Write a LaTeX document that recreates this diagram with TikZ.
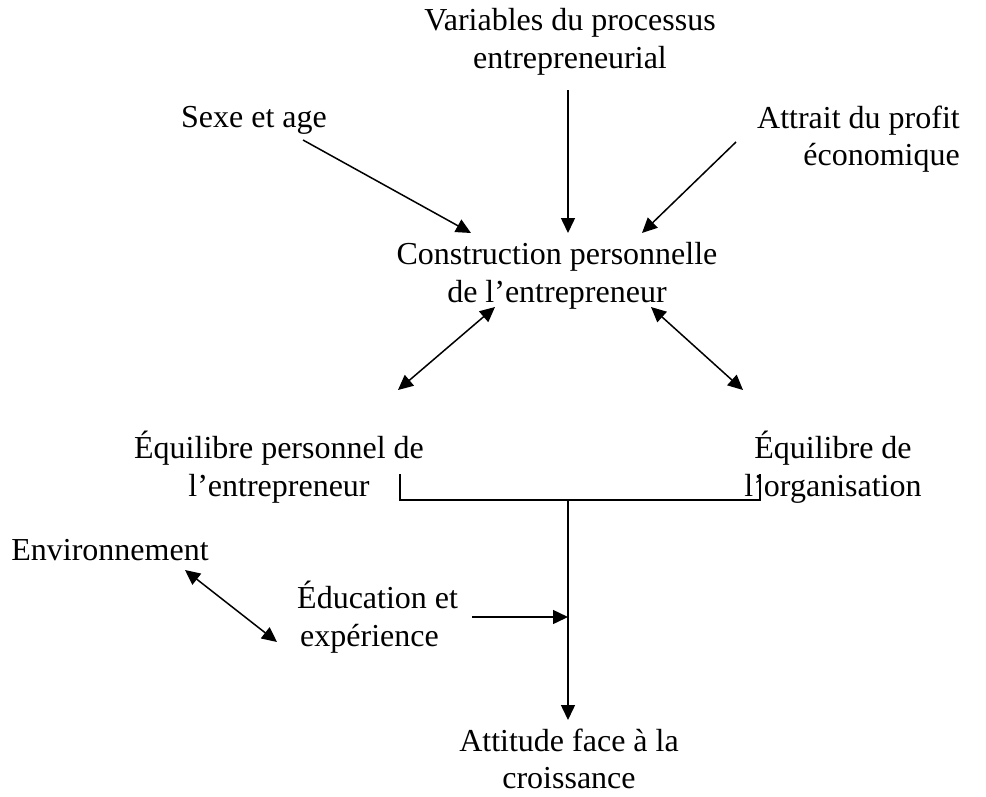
\documentclass[tikz,border=0pt]{standalone}
\usepackage{fontspec}
\setmainfont{Liberation Serif}
\usetikzlibrary{arrows.meta}
\begin{document}
\begin{tikzpicture}[x=1pt,y=-1pt,
  lbl/.style={inner sep=0pt,font=\fontsize{32}{37.5}\selectfont},
  conn/.style={line width=1.5pt,-{Triangle[length=15pt,width=14pt]}},
  dconn/.style={line width=1.5pt,{Triangle[length=15pt,width=14pt]}-{Triangle[length=15pt,width=14pt]}},
  plain/.style={line width=1.5pt}]
\useasboundingbox (0,0) rectangle (986,796);
\fill[white] (0,0) rectangle (986,796);
% nodes
\node[lbl,align=center] (var) at (570,42) {Variables du processus\\entrepreneurial};
\node[lbl] (sexe) at (254,120) {Sexe et age};
\node[lbl,align=right,anchor=east] (attr) at (960,139) {Attrait du profit\\économique};
\node[lbl,align=center] (cons) at (557,276) {Construction personnelle\\de l’entrepreneur};
\node[lbl,align=center] (eqp) at (279,467) {Équilibre personnel de\\l’entrepreneur};
\node[lbl,align=center] (eqo) at (833,467) {Équilibre de\\l’organisation};
\node[lbl] (env) at (110,550) {Environnement};
\node[lbl,align=left,anchor=west] (edu) at (297,617) {Éducation et\\\hspace*{3pt}expérience};
\node[lbl,align=center] (att) at (569,759) {Attitude face à la\\croissance};
% connector end points
\coordinate (sexeA) at (303,140);
\coordinate (consA) at (471,233);
\coordinate (varA) at (568,90);
\coordinate (consB) at (568,233);
\coordinate (attrA) at (736,142);
\coordinate (consC) at (642,233);
\coordinate (consD) at (495,307);
\coordinate (eqpA) at (398,390);
\coordinate (consE) at (651,307);
\coordinate (eqoA) at (743,390);
\coordinate (brL) at (400,474);
\coordinate (brLb) at (400,500);
\coordinate (brR) at (760,474);
\coordinate (brRb) at (760,500);
\coordinate (brM) at (568,500);
\coordinate (attA) at (568,720);
\coordinate (envA) at (185,570);
\coordinate (eduA) at (277,642);
\coordinate (eduB) at (472,617);
\coordinate (join) at (568,617);
% connectors
\draw[conn] (sexeA) -- (consA);
\draw[conn] (varA) -- (consB);
\draw[conn] (attrA) -- (consC);
\draw[dconn] (consD) -- (eqpA);
\draw[dconn] (consE) -- (eqoA);
\draw[plain] (brL) -- (brLb) -- (brRb) -- (brR);
\draw[conn] (brM) -- (attA);
\draw[dconn] (envA) -- (eduA);
\draw[conn] (eduB) -- (join);
\end{tikzpicture}
\end{document}
